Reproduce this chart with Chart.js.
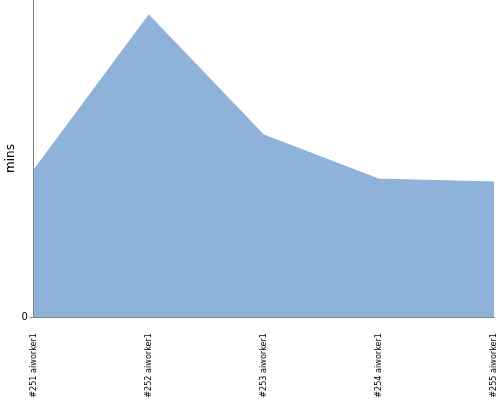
<!DOCTYPE html>
<html>
<head>
<meta charset="UTF-8" />
<script src="https://cdn.jsdelivr.net/npm/chart.js"></script>
<style>
  html, body { margin: 0; padding: 0; background: #fff; }
  #wrap { width: 500px; height: 400px; }
</style>
</head>
<body>
<div id="wrap"><canvas id="chart"></canvas></div>
<script>
const categories = ["#251 aiworker1", "#252 aiworker1", "#253 aiworker1", "#254 aiworker1", "#255 aiworker1"];
const minsValues = [4.64, 9.53, 5.74, 4.35, 4.26];
const yTicks = [0];

// drop the half-label padding chart.js adds around the plot
const noEdgePadding = axis => {
  axis.paddingLeft = 0; axis.paddingRight = 0;
  axis.paddingTop = 0; axis.paddingBottom = 0;
};

new Chart(document.getElementById("chart"), {
  type: "line",
  data: {
    labels: categories,
    datasets: [{
      data: minsValues,
      fill: "origin",
      backgroundColor: "#8fb2db",
      borderColor: "#8fb2db",
      borderWidth: 1,
      pointRadius: 0,
      tension: 0
    }]
  },
  options: {
    responsive: true,
    maintainAspectRatio: false,
    animation: false,
    layout: { padding: { top: 0, right: 6, bottom: 0, left: 4 } },
    plugins: { legend: { display: false }, tooltip: { enabled: false } },
    scales: {
      x: {
        offset: false,
        afterFit: axis => { noEdgePadding(axis); axis.height = 83; },
        grid: { display: false },
        border: { color: "#7f8fa6", width: 1 },
        ticks: {
          minRotation: 90, maxRotation: 90, autoSkip: false,
          color: "#000", padding: 8,
          font: { family: "DejaVu Sans Condensed", size: 9 }
        }
      },
      y: {
        min: 0, max: 10,
        afterBuildTicks: axis => { axis.ticks = yTicks.map(v => ({ value: v })); },
        afterFit: noEdgePadding,
        grid: { drawOnChartArea: false, tickLength: 4, color: "#808080" },
        border: { color: "#808080", width: 1 },
        ticks: { color: "#000", padding: 2, font: { family: "DejaVu Sans", size: 10 } },
        title: { display: true, text: "mins", color: "#000", padding: { top: 0, bottom: 1 }, font: { family: "DejaVu Sans", size: 12 } }
      }
    }
  }
});
</script>
</body>
</html>
